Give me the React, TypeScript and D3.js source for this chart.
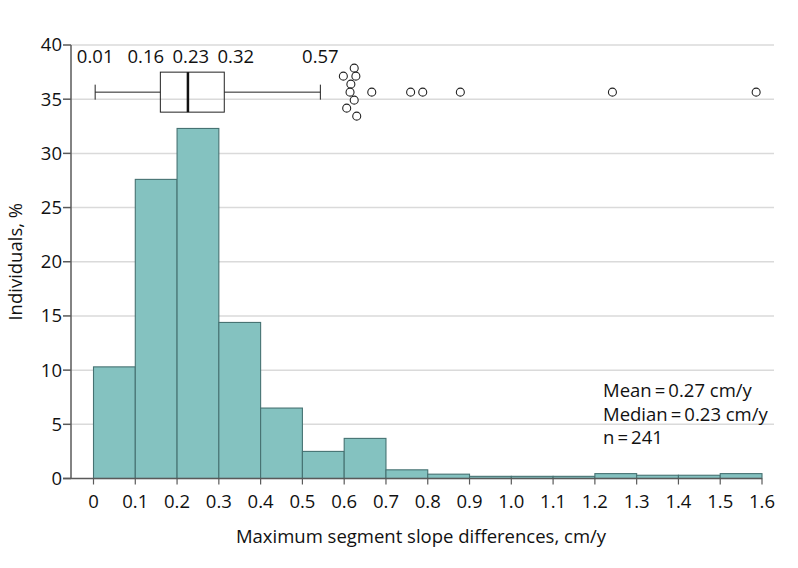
import React from "react";
import * as d3 from "d3";

const binStarts = [0, 0.1, 0.2, 0.3, 0.4, 0.5, 0.6, 0.7, 0.8, 0.9, 1.0, 1.1, 1.2, 1.3, 1.4, 1.5];
const binWidth = 0.1;
const percents = [10.3, 27.6, 32.3, 14.4, 6.5, 2.5, 3.7, 0.8, 0.4, 0.2, 0.2, 0.2, 0.45, 0.3, 0.3, 0.45];

const xTicks = [0, 0.1, 0.2, 0.3, 0.4, 0.5, 0.6, 0.7, 0.8, 0.9, 1.0, 1.1, 1.2, 1.3, 1.4, 1.5, 1.6];
const xTickLabels = ["0", "0.1", "0.2", "0.3", "0.4", "0.5", "0.6", "0.7", "0.8", "0.9", "1.0", "1.1", "1.2", "1.3", "1.4", "1.5", "1.6"];
const yTicks = [0, 5, 10, 15, 20, 25, 30, 35, 40];

// box plot: whisker low, Q1, median, Q3, whisker high (as drawn), with printed labels
const boxValues = [0.004, 0.16, 0.226, 0.313, 0.543];
const boxLabels = ["0.01", "0.16", "0.23", "0.32", "0.57"];
const boxLevel = 35.65;

// outliers: value and stacking row (jitter)
const outlierValues = [0.624, 0.598, 0.628, 0.616, 0.614, 0.666, 0.759, 0.788, 0.878, 1.242, 1.586, 0.624, 0.606, 0.630];
const outlierRows = [-3, -2, -2, -1, 0, 0, 0, 0, 0, 0, 0, 1, 2, 3];

const statsLines = ["Mean\u2009=\u20090.27 cm/y", "Median\u2009=\u20090.23 cm/y", "n\u2009=\u2009241"];

const W = 798;
const H = 568;
const FONT = "'Open Sans', sans-serif";
const FS = 18.5;

export default function App() {
  const x = d3.scaleLinear().domain([0, 1.6]).range([93.5, 762]);
  const y = d3.scaleLinear().domain([0, 40]).range([478.5, 45]);
  const axisX = 71;
  const gridEnd = 774;

  const yc = y(boxLevel);
  const boxHalf = 20;
  const capHalf = 7.5;

  // label positions with simple collision spreading
  const minGap = 45;
  const lx = boxValues.map((v) => x(v));
  for (let it = 0; it < 50; it++) {
    for (let i = 0; i < lx.length - 1; i++) {
      const d = lx[i + 1] - lx[i];
      if (d < minGap) {
        const push = (minGap - d) / 2;
        lx[i] -= push;
        lx[i + 1] += push;
      }
    }
  }

  const barFill = "#84c2c0";
  const barStroke = "#467272";
  const axisColor = "#5a5a5a";
  const gridColor = "#dadada";

  return (
    <svg width={W} height={H} style={{ position: "absolute", left: 0, top: 0, background: "#fff" }} fontFamily={FONT}>
      {/* gridlines */}
      {yTicks.filter((t) => t > 0).map((t) => (
        <line key={"g" + t} x1={axisX} x2={gridEnd} y1={y(t)} y2={y(t)} stroke={gridColor} strokeWidth={1.5} />
      ))}
      {/* bars */}
      {binStarts.map((s, i) => (
        <rect
          key={"b" + i}
          x={x(s)}
          y={y(percents[i])}
          width={x(s + binWidth) - x(s)}
          height={y(0) - y(percents[i])}
          fill={barFill}
          stroke={barStroke}
          strokeWidth={1.1}
        />
      ))}
      {/* y axis */}
      <line x1={axisX} x2={axisX} y1={y(40)} y2={y(0)} stroke={axisColor} strokeWidth={1.5} />
      {yTicks.map((t) => (
        <g key={"yt" + t}>
          <line x1={axisX - 8} x2={axisX} y1={y(t)} y2={y(t)} stroke={axisColor} strokeWidth={1.5} />
          <text x={axisX - 9} y={y(t)} dy="0.35em" textAnchor="end" fontSize={FS} fill="#111">
            {t}
          </text>
        </g>
      ))}
      {/* x axis */}
      <line x1={axisX - 8} x2={x(1.6)} y1={y(0)} y2={y(0)} stroke={axisColor} strokeWidth={1.5} />
      {xTicks.map((t, i) => (
        <g key={"xt" + i}>
          <line x1={x(t)} x2={x(t)} y1={y(0)} y2={y(0) + 6} stroke={axisColor} strokeWidth={1.2} />
          <text x={x(t)} y={y(0) + 29} textAnchor="middle" fontSize={FS} fill="#111">
            {xTickLabels[i]}
          </text>
        </g>
      ))}
      {/* axis titles */}
      <text x={421} y={543} textAnchor="middle" fontSize={FS} fill="#111">
        Maximum segment slope differences, cm/y
      </text>
      <text transform={`translate(22, ${(y(0) + y(40)) / 2}) rotate(-90)`} textAnchor="middle" fontSize={FS} fill="#111">
        Individuals, %
      </text>
      {/* box plot */}
      <line x1={x(boxValues[0])} x2={x(boxValues[1])} y1={yc} y2={yc} stroke="#222" strokeWidth={1} />
      <line x1={x(boxValues[3])} x2={x(boxValues[4])} y1={yc} y2={yc} stroke="#222" strokeWidth={1} />
      <line x1={x(boxValues[0])} x2={x(boxValues[0])} y1={yc - capHalf} y2={yc + capHalf} stroke="#222" strokeWidth={1} />
      <line x1={x(boxValues[4])} x2={x(boxValues[4])} y1={yc - capHalf} y2={yc + capHalf} stroke="#222" strokeWidth={1} />
      <rect
        x={x(boxValues[1])}
        y={yc - boxHalf}
        width={x(boxValues[3]) - x(boxValues[1])}
        height={boxHalf * 2}
        fill="none"
        stroke="#222"
        strokeWidth={1}
      />
      <line x1={x(boxValues[2])} x2={x(boxValues[2])} y1={yc - boxHalf} y2={yc + boxHalf} stroke="#111" strokeWidth={2.5} />
      {boxLabels.map((l, i) => (
        <text key={"bl" + i} x={lx[i]} y={yc - 29} textAnchor="middle" fontSize={FS} fill="#111">
          {l}
        </text>
      ))}
      {/* outliers */}
      {outlierValues.map((v, i) => (
        <circle key={"o" + i} cx={x(v)} cy={yc + outlierRows[i] * 8} r={4} fill="#fff" stroke="#222" strokeWidth={1.1} />
      ))}
      {/* stats */}
      {statsLines.map((s, i) => (
        <text key={"s" + i} x={603} y={397 + i * 23.5} fontSize={FS} fill="#111">
          {s}
        </text>
      ))}
    </svg>
  );
}
